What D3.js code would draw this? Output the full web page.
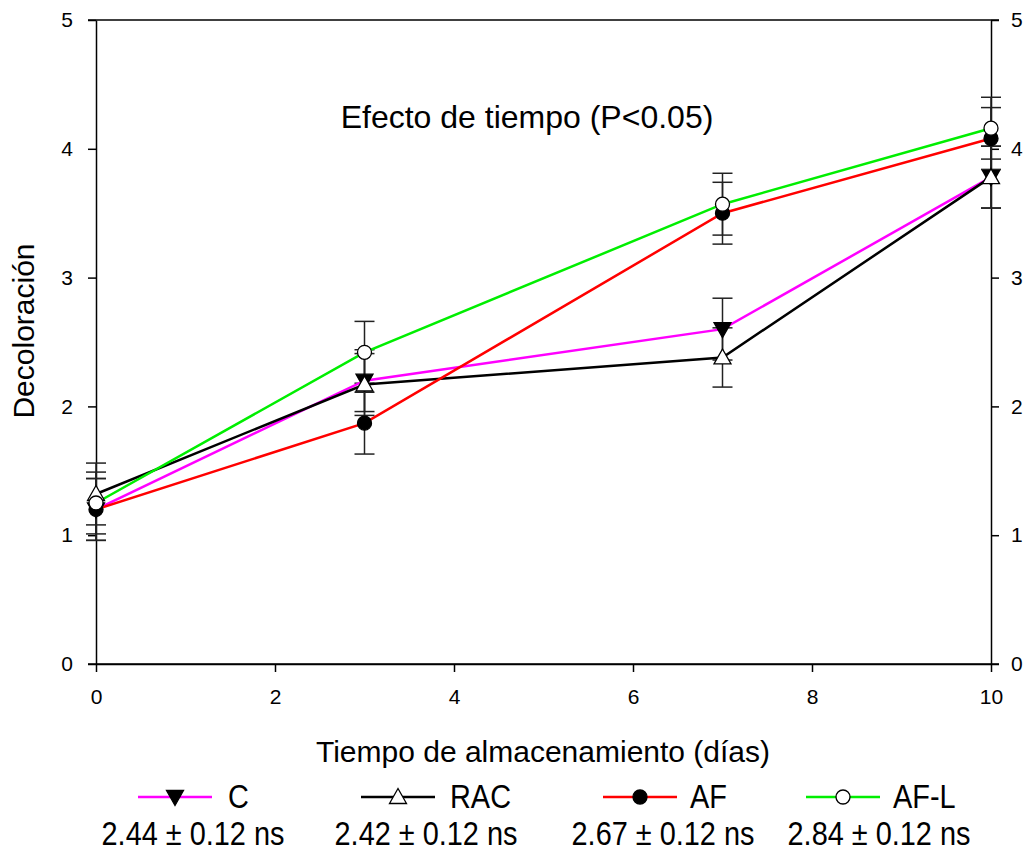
<!DOCTYPE html>
<html>
<head>
<meta charset="utf-8">
<script src="https://cdn.jsdelivr.net/npm/d3@7"></script>
<style>
  body { margin: 0; background: #fff; }
  svg { font-family: "Liberation Sans", Arial, sans-serif; }
</style>
</head>
<body>
<svg id="chart" width="1033" height="854"></svg>
<script>
// ---- Data ----
const days = [0, 3, 7, 10];
const seriesNames = ["C", "RAC", "AF", "AF-L"];
const valuesC   = [1.20, 2.20, 2.60, 3.78];
const valuesRAC = [1.32, 2.17, 2.38, 3.78];
const valuesAF  = [1.20, 1.87, 3.50, 4.08];
const valuesAFL = [1.25, 2.42, 3.57, 4.16];
const errC   = [0.24, 0.24, 0.24, 0.24];
const errRAC = [0.24, 0.24, 0.23, 0.24];
const errAF  = [0.24, 0.24, 0.24, 0.24];
const errAFL = [0.24, 0.24, 0.24, 0.24];
const legendStats = ["2.44 ± 0.12 ns", "2.42 ± 0.12 ns", "2.67 ± 0.12 ns", "2.84 ± 0.12 ns"];
const xTicks = [0, 2, 4, 6, 8, 10];
const yTicks = [0, 1, 2, 3, 4, 5];
const annotation = "Efecto de tiempo (P<0.05)";
const xTitle = "Tiempo de almacenamiento (días)";
const yTitle = "Decoloración";

const series = [
  { name: "C",    values: valuesC,   err: errC,   color: "#ff00ff", marker: "triDown", fill: "#000" },
  { name: "RAC",  values: valuesRAC, err: errRAC, color: "#000000", marker: "triUp",   fill: "#fff" },
  { name: "AF",   values: valuesAF,  err: errAF,  color: "#ff0000", marker: "circle",  fill: "#000" },
  { name: "AF-L", values: valuesAFL, err: errAFL, color: "#00ee00", marker: "circle",  fill: "#fff" }
];

// ---- Layout ----
const svg = d3.select("#chart");
const pL = 96, pR = 991, pT = 20, pB = 664;
const x = d3.scaleLinear().domain([0, 10]).range([pL, pR]);
const y = d3.scaleLinear().domain([0, 5]).range([pB, pT]);

// frame (top line)
svg.append("line").attr("x1", pL - 8).attr("x2", pR + 8)
  .attr("y1", pT).attr("y2", pT).attr("stroke", "#000").attr("stroke-width", 1.5);

// axes
const tickFont = "21px";
const fmt = d3.format("d");
const gx = svg.append("g").attr("transform", `translate(0,${pB})`)
  .call(d3.axisBottom(x).tickValues(xTicks).tickFormat(fmt).tickSize(8).tickSizeOuter(0).tickPadding(17));
const gyl = svg.append("g").attr("transform", `translate(${pL},0)`)
  .call(d3.axisLeft(y).tickValues(yTicks).tickFormat(fmt).tickSize(8).tickSizeOuter(0).tickPadding(15));
const gyr = svg.append("g").attr("transform", `translate(${pR},0)`)
  .call(d3.axisRight(y).tickValues(yTicks).tickFormat(fmt).tickSize(8).tickSizeOuter(0).tickPadding(12));
[gx, gyl, gyr].forEach(g => {
  g.selectAll("path.domain").attr("stroke", "#000").attr("stroke-width", 1.5);
  g.selectAll(".tick line").attr("stroke", "#000").attr("stroke-width", 1.5);
  g.selectAll(".tick text").attr("font-size", tickFont).attr("fill", "#000")
    .attr("font-family", "Liberation Sans, Arial, sans-serif");
});
svg.append("line").attr("x1", pL - 8).attr("x2", pR + 8).attr("y1", pB).attr("y2", pB)
  .attr("stroke", "#000").attr("stroke-width", 1.5);

// titles
svg.append("text").attr("x", 543).attr("y", 762).attr("text-anchor", "middle")
  .attr("font-size", "30px").text(xTitle);
svg.append("text").attr("transform", "translate(34,331) rotate(-90)").attr("text-anchor", "middle")
  .attr("font-size", "30px").text(yTitle);
svg.append("text").attr("x", 527).attr("y", 128).attr("text-anchor", "middle")
  .attr("font-size", "32px").text(annotation);

// markers
function drawMarker(g, type, cx, cy, fill) {
  if (type === "circle") {
    g.append("circle").attr("cx", cx).attr("cy", cy).attr("r", 7)
      .attr("fill", fill).attr("stroke", "#000").attr("stroke-width", 1.3);
  } else if (type === "triDown") {
    g.append("path").attr("d", `M${cx - 8.5},${cy - 6.5} L${cx + 8.5},${cy - 6.5} L${cx},${cy + 8.5} Z`)
      .attr("fill", fill).attr("stroke", "#000").attr("stroke-width", 1.3);
  } else {
    g.append("path").attr("d", `M${cx - 8.5},${cy + 6.5} L${cx + 8.5},${cy + 6.5} L${cx},${cy - 8.5} Z`)
      .attr("fill", fill).attr("stroke", "#000").attr("stroke-width", 1.3);
  }
}

const line = d3.line().x(d => x(d[0])).y(d => y(d[1]));
const plot = svg.append("g");

// error bars
series.forEach(s => {
  days.forEach((d, i) => {
    const cx = x(d), y1 = y(s.values[i] + s.err[i]), y2 = y(s.values[i] - s.err[i]);
    plot.append("line").attr("x1", cx).attr("x2", cx).attr("y1", y1).attr("y2", y2)
      .attr("stroke", "#222").attr("stroke-width", 1.5);
    [y1, y2].forEach(yy => plot.append("line").attr("x1", cx - 10).attr("x2", cx + 10)
      .attr("y1", yy).attr("y2", yy).attr("stroke", "#222").attr("stroke-width", 1.5));
  });
});

// lines
series.forEach(s => {
  plot.append("path").datum(days.map((d, i) => [d, s.values[i]]))
    .attr("d", line).attr("fill", "none").attr("stroke", s.color).attr("stroke-width", 2.5);
});
// markers
series.forEach(s => {
  days.forEach((d, i) => drawMarker(plot, s.marker, x(d), y(s.values[i]), s.fill));
});

// legend
const legX = [175, 398, 640, 843];
const labelX = [228, 450, 690, 893];
const statX = [193, 426, 663, 879];
const leg = svg.append("g");
series.forEach((s, i) => {
  const cx = legX[i], cy = 797;
  leg.append("line").attr("x1", cx - 37).attr("x2", cx + 37).attr("y1", cy).attr("y2", cy)
    .attr("stroke", s.color).attr("stroke-width", 2.5);
  drawMarker(leg, s.marker, cx, cy, s.fill);
  leg.append("text").attr("transform", `translate(${labelX[i]},808) scale(0.85,1)`)
    .attr("font-size", "34px").text(seriesNames[i]);
  leg.append("text").attr("transform", `translate(${statX[i]},845) scale(0.85,1)`)
    .attr("text-anchor", "middle").attr("font-size", "34px").text(legendStats[i]);
});
</script>
</body>
</html>
